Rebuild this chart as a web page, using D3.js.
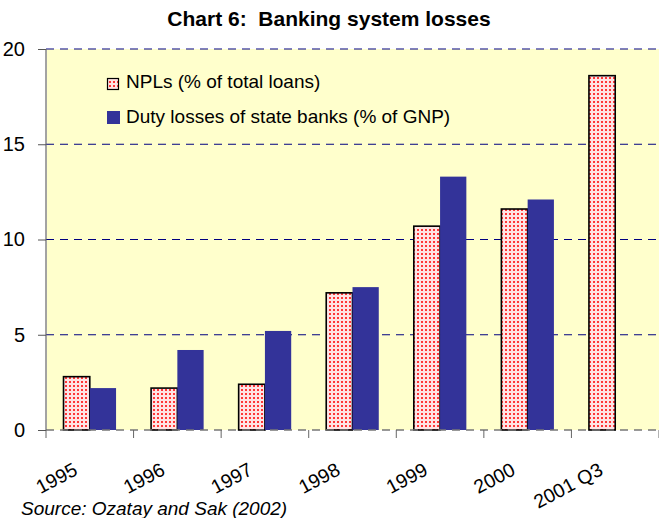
<!DOCTYPE html>
<html><head><meta charset="utf-8">
<script src="https://cdn.jsdelivr.net/npm/d3@7"></script>
<style>body{margin:0;background:#fff}svg{display:block}</style>
</head><body>
<script>
const categories = ["1995","1996","1997","1998","1999","2000","2001 Q3"];
const npl = [2.8, 2.2, 2.4, 7.2, 10.7, 11.6, 18.6];
const duty = [2.2, 4.2, 5.2, 7.5, 13.3, 12.1, null];
const seriesNames = ["NPLs (% of total loans)", "Duty losses of state banks (% of GNP)"];
const yTicks = [0, 5, 10, 15, 20];

const W = 659, H = 518;
const m = {l: 46, r: 659, t: 49, b: 430};
const FONT = "Arial, 'Liberation Sans', sans-serif";
const svg = d3.select("body").append("svg").attr("width", W).attr("height", H)
  .style("font-family", FONT);

const defs = svg.append("defs");
const pat = defs.append("pattern").attr("id", "dots").attr("patternUnits", "userSpaceOnUse")
  .attr("width", 4).attr("height", 4);
pat.append("rect").attr("width", 4).attr("height", 4).attr("fill", "#ffe4e4");
pat.append("rect").attr("x", 1).attr("y", 1).attr("width", 2).attr("height", 2).attr("fill", "#ff3838");

const x = d3.scaleBand().domain(categories).range([m.l, m.r]).paddingInner(0).paddingOuter(0);
const y = d3.scaleLinear().domain([0, 20]).range([m.b, m.t]);
const bw = x.bandwidth();
const barW = bw * 0.3;

svg.append("rect").attr("x", m.l + 1).attr("y", m.t).attr("width", m.r - m.l - 1).attr("height", m.b - m.t).attr("fill", "#ffffcc");

// gridlines
svg.append("g").selectAll("line").data(yTicks.filter(d => d > 0)).join("line")
  .attr("x1", m.l).attr("x2", m.r).attr("y1", d => y(d)).attr("y2", d => y(d))
  .attr("stroke", "#000080").attr("stroke-width", 1).attr("stroke-dasharray", "8,6");

// bars
const g = svg.append("g");
g.selectAll("rect.npl").data(categories).join("rect").attr("class", "npl")
  .attr("x", (c) => x(c) + bw / 2 - barW)
  .attr("y", (c, i) => y(npl[i]))
  .attr("width", barW)
  .attr("height", (c, i) => y(0) - y(npl[i]))
  .attr("fill", "url(#dots)").attr("stroke", "#000").attr("stroke-width", 1.6);
g.selectAll("rect.duty").data(categories.filter((c, i) => duty[i] != null)).join("rect").attr("class", "duty")
  .attr("x", (c) => x(c) + bw / 2)
  .attr("y", (c) => y(duty[categories.indexOf(c)]))
  .attr("width", barW)
  .attr("height", (c) => y(0) - y(duty[categories.indexOf(c)]))
  .attr("fill", "#333399");

// x axis dashed line
svg.append("line").attr("x1", m.l).attr("x2", m.r).attr("y1", m.b).attr("y2", m.b)
  .attr("stroke", "#777").attr("stroke-width", 1.5).attr("stroke-dasharray", "8,6");
// x ticks at band boundaries
const bounds = categories.map(c => x(c)).concat([x(categories[categories.length - 1]) + bw]);
svg.append("g").selectAll("line").data(bounds).join("line")
  .attr("x1", d => d).attr("x2", d => d).attr("y1", m.b).attr("y2", m.b + 8)
  .attr("stroke", "#666").attr("stroke-width", 1);

// y axis
const yAxis = d3.axisLeft(y).tickValues(yTicks).tickSize(8).tickPadding(13).tickFormat(d3.format("d"));
const ya = svg.append("g").attr("transform", `translate(${m.l},0)`).call(yAxis);
ya.select(".domain").attr("stroke", "#666").attr("stroke-width", 1.2).attr("d", `M0,${m.b}V${m.t}`);
ya.selectAll(".tick line").attr("stroke", "#555");
ya.selectAll("text").attr("font-size", 20).attr("fill", "#000").style("font-family", FONT);

// x labels
svg.append("g").selectAll("text").data(categories).join("text")
  .attr("transform", c => `translate(${x(c) + bw / 2 - 11},${m.b + 44}) rotate(-28)`)
  .attr("text-anchor", "end")
  .attr("font-size", 19.5).text(c => c);

// title
svg.append("text").attr("x", 329).attr("y", 26).attr("text-anchor", "middle")
  .attr("font-weight", "bold").attr("font-size", 21)
  .style("white-space", "pre").text("Chart 6:  Banking system losses");

// legend
const leg = svg.append("g");
leg.append("rect").attr("x", 107.5).attr("y", 78.5).attr("width", 11).attr("height", 11)
  .attr("fill", "url(#dots)").attr("stroke", "#000").attr("stroke-width", 1.2);
leg.append("rect").attr("x", 107).attr("y", 111).attr("width", 13).attr("height", 13).attr("fill", "#333399");
leg.append("text").attr("x", 126).attr("y", 88).attr("font-size", 19).text(seriesNames[0]);
leg.append("text").attr("x", 126).attr("y", 123).attr("font-size", 19).text(seriesNames[1]);

// source
svg.append("text").attr("x", 21).attr("y", 515).attr("font-size", 19).attr("font-style", "italic").text("Source: Ozatay and Sak (2002)");
</script>
</body></html>
